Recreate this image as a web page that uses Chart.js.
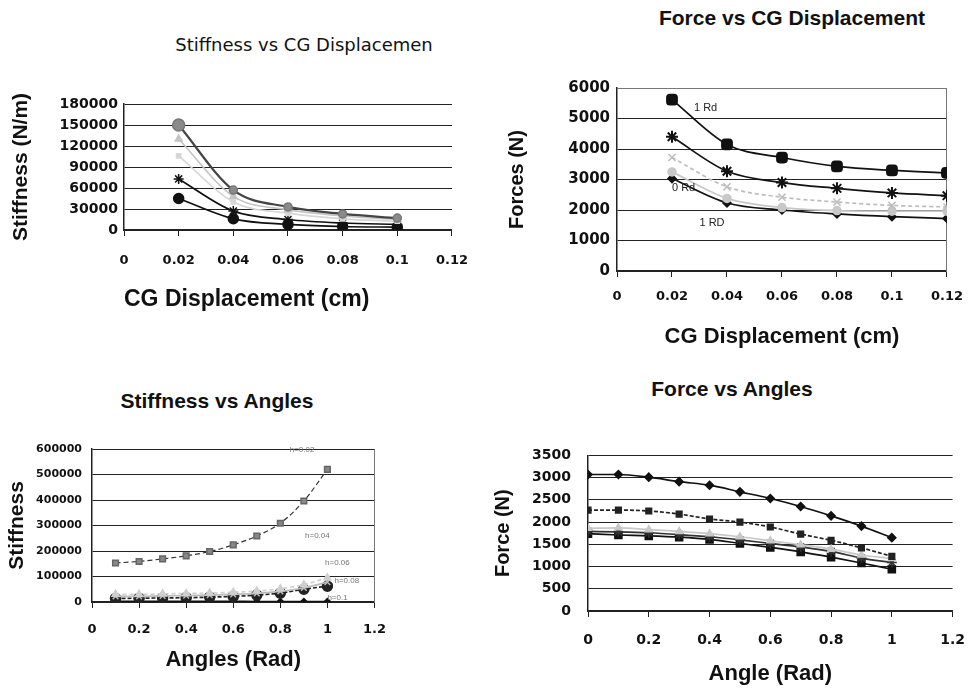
<!DOCTYPE html>
<html lang="en">

<head>
    <meta charset="UTF-8">
    <title>Stiffness and Force vs CG Displacement and Angles</title>
    <script src="https://cdn.jsdelivr.net/npm/chart.js"></script>
    <style>
        body { margin: 0; width: 980px; height: 689px; background: #fff; position: relative; overflow: hidden; }
        canvas { position: absolute; }
        .chart-title {
            position: absolute; margin: 0; line-height: 1; white-space: nowrap; color: #111;
            transform: translate(-50%, -50%);
            font-family: "Liberation Sans", Arial, sans-serif; font-weight: bold; font-size: 21px;
        }
    </style>
</head>

<body>
    <p class="chart-title" style="left:304px; top:45px; font-family:'DejaVu Sans'; font-weight:normal; font-size:18px;">Stiffness vs CG Displacemen</p>
    <p class="chart-title" style="left:792px; top:17px;">Force vs CG Displacement</p>
    <p class="chart-title" style="left:217px; top:400px;">Stiffness vs Angles</p>
    <p class="chart-title" style="left:732px; top:388px;">Force vs Angles</p>

    <canvas id="stiffnessCgChart"></canvas>
    <canvas id="forceCgChart"></canvas>
    <canvas id="stiffnessAngleChart"></canvas>
    <canvas id="forceAngleChart"></canvas>

    <script>
        // ---- data ----
        const cgDisp = [0.02, 0.04, 0.06, 0.08, 0.1];
        const stiffCgA = [150000, 57000, 33000, 23000, 17000];
        const stiffCgB = [130000, 48000, 29000, 20000, 15000];
        const stiffCgC = [106000, 40000, 24000, 16000, 12500];
        const stiffCgD = [73000, 27000, 15000, 10000, 8000];
        const stiffCgE = [45000, 16000, 8000, 5000, 4000];

        const cgDispForce = [0.02, 0.04, 0.06, 0.08, 0.1, 0.12];
        const force1Rd = [5620, 4150, 3720, 3430, 3300, 3220];
        const forceStar = [4400, 3270, 2900, 2710, 2560, 2470];
        const forceGreyX = [3720, 2760, 2420, 2260, 2150, 2100];
        const force0Rd = [3250, 2380, 2080, 1980, 1960, 1960];
        const force1RD = [3030, 2230, 2000, 1870, 1780, 1720];

        const angles = [0.1, 0.2, 0.3, 0.4, 0.5, 0.6, 0.7, 0.8, 0.9, 1.0];
        const stiffH002 = [153000, 159000, 169000, 181000, 198000, 224000, 259000, 309000, 396000, 520000];
        const stiffH004 = [30000, 30000, 32000, 33000, 35000, 38000, 43000, 52000, 68000, 95000];
        const stiffH006 = [22000, 22000, 24000, 25000, 27000, 30000, 34000, 42000, 55000, 78000];
        const stiffH008 = [14000, 15000, 16000, 17000, 19000, 22000, 27000, 35000, 50000, 62000];
        const stiffH01 = [3000, 3000, 2500, 2500, 2500, 2500, 2000, 2000, 2000, 2000];

        const anglesForce = [0, 0.1, 0.2, 0.3, 0.4, 0.5, 0.6, 0.7, 0.8, 0.9, 1.0];
        const forceAngA = [3070, 3070, 3010, 2910, 2830, 2680, 2530, 2350, 2140, 1910, 1650];
        const forceAngB = [2270, 2270, 2250, 2180, 2070, 2000, 1890, 1730, 1590, 1420, 1230];
        const forceAngC = [1860, 1870, 1830, 1790, 1740, 1670, 1580, 1490, 1390, 1260, 1180];
        const forceAngD = [1790, 1780, 1760, 1720, 1670, 1600, 1520, 1440, 1340, 1190, 1090];
        const forceAngE = [1740, 1710, 1690, 1660, 1610, 1520, 1430, 1330, 1210, 1080, 940];

        const cgTicks = [0, 0.02, 0.04, 0.06, 0.08, 0.1, 0.12];
        const stiffCgTicks = [0, 30000, 60000, 90000, 120000, 150000, 180000];
        const forceCgTicks = [0, 1000, 2000, 3000, 4000, 5000, 6000];
        const angleTicks = [0, 0.2, 0.4, 0.6, 0.8, 1, 1.2];
        const stiffAngleTicks = [0, 100000, 200000, 300000, 400000, 500000, 600000];
        const forceAngleTicks = [0, 500, 1000, 1500, 2000, 2500, 3000, 3500];

        const forceCgNotes = [
            { text: '1 Rd', x: 0.028, y: 5330 },
            { text: '0 Rd', x: 0.02, y: 2710 },
            { text: '1 RD', x: 0.030, y: 1560 }
        ];
        const stiffAngleNotes = [
            { text: 'h=0.02', x: 0.84, y: 598000 },
            { text: 'h=0.04', x: 0.905, y: 260000 },
            { text: 'h=0.06', x: 0.99, y: 153000 },
            { text: 'h=0.08', x: 1.03, y: 82000 },
            { text: 'h=0.1', x: 1.0, y: 16000 }
        ];

        Chart.defaults.font.family = "'Liberation Sans', Arial, sans-serif";
        Chart.defaults.color = '#111';

        const pts = (xs, ys) => xs.map((x, i) => ({ x: x, y: ys[i] }));

        function series(xs, ys, color, marker, extra) {
            return Object.assign({
                data: pts(xs, ys),
                borderColor: color,
                backgroundColor: color,
                pointStyle: marker,
                pointRadius: 5,
                pointBorderWidth: 1.5,
                borderWidth: 1.7,
                cubicInterpolationMode: 'monotone',
                fill: false
            }, extra || {});
        }

        // small text labels placed at data coordinates
        function notesPlugin(items, font, color) {
            return {
                id: 'notes',
                afterDatasetsDraw(chart) {
                    const ctx = chart.ctx;
                    ctx.save();
                    ctx.font = font;
                    ctx.fillStyle = color;
                    ctx.textAlign = 'left';
                    ctx.textBaseline = 'middle';
                    items.forEach(n => {
                        ctx.fillText(n.text, chart.scales.x.getPixelForValue(n.x), chart.scales.y.getPixelForValue(n.y));
                    });
                    ctx.restore();
                }
            };
        }

        function dottedEdge(position) {
            const vertical = position === 'right';
            return {
                type: 'linear', position: position,
                grid: { display: false }, ticks: { display: false },
                border: { display: true, color: '#777', dash: [2, 2], width: 1 },
                afterFit: s => { if (vertical) s.width = 0; else s.height = 0; }
            };
        }

        function makeChart(id, box, plot, cfg) {
            const canvas = document.getElementById(id);
            canvas.width = box.w;
            canvas.height = box.h;
            canvas.style.left = box.x + 'px';
            canvas.style.top = box.y + 'px';

            const xLh = cfg.xTitleSize * 1.2;
            const yLh = cfg.yTitleSize * 1.2;
            const lastY = cfg.yTicks[cfg.yTicks.length - 1];

            const scales = {
                x: {
                    type: 'linear',
                    min: cfg.xTicks[0], max: cfg.xTicks[cfg.xTicks.length - 1],
                    afterBuildTicks: s => { s.ticks = cfg.xTicks.map(v => ({ value: v })); },
                    afterFit: s => { s.height = box.y + box.h - plot.b; },
                    grid: { drawOnChartArea: false, tickLength: 6, color: '#222' },
                    border: { color: '#222', width: 1.5 },
                    ticks: {
                        autoSkip: false, maxRotation: 0, color: '#111', padding: cfg.xTickPad,
                        font: { family: 'DejaVu Sans', weight: 'bold', size: cfg.xTickSize },
                        callback: v => String(v)
                    },
                    title: {
                        display: true, text: cfg.xTitle, align: cfg.xTitleAlign || 'center', color: '#111',
                        font: { size: cfg.xTitleSize, weight: 'bold' },
                        padding: { top: 0, bottom: box.y + box.h - cfg.xTitleY - xLh / 2 }
                    }
                },
                y: {
                    type: 'linear',
                    min: cfg.yTicks[0], max: lastY,
                    afterBuildTicks: s => { s.ticks = cfg.yTicks.map(v => ({ value: v })); },
                    afterFit: s => { s.width = plot.l - box.x; },
                    grid: {
                        drawTicks: false, lineWidth: 1,
                        color: c => (cfg.hideTopGrid && c.tick && c.tick.value === lastY) ? 'rgba(0,0,0,0)' : '#222'
                    },
                    border: { color: '#222', width: 1.5 },
                    ticks: {
                        color: '#111', padding: cfg.yTickPad,
                        font: { family: 'DejaVu Sans', weight: 'bold', size: cfg.yTickSize },
                        callback: v => String(v)
                    },
                    title: {
                        display: true, text: cfg.yTitle, color: '#111',
                        font: { size: cfg.yTitleSize, weight: 'bold' },
                        padding: { top: cfg.yTitleX - box.x - yLh / 2, bottom: 0 }
                    }
                }
            };
            (cfg.edges || []).forEach(p => { scales[p === 'right' ? 'y2' : 'x2'] = dottedEdge(p); });

            return new Chart(canvas, {
                type: 'line',
                data: { datasets: cfg.datasets },
                options: {
                    responsive: false,
                    animation: false,
                    events: [],
                    layout: { padding: { left: 0, top: plot.t - box.y, right: box.x + box.w - plot.r, bottom: 0 } },
                    plugins: { legend: { display: false }, tooltip: { enabled: false } },
                    scales: scales
                },
                plugins: cfg.plugins || []
            });
        }

        document.addEventListener('DOMContentLoaded', function () {
            // Stiffness vs CG Displacement
            makeChart('stiffnessCgChart',
                { x: 0, y: 80, w: 485, h: 240 },
                { l: 124, r: 462, t: 104, b: 230 },
                {
                    xTicks: cgTicks, yTicks: stiffCgTicks,
                    xTitle: 'CG Displacement (cm)', xTitleSize: 23, xTitleY: 300, xTitleAlign: 'start',
                    yTitle: 'Stiffness (N/m)', yTitleSize: 21, yTitleX: 21,
                    xTickSize: 13, xTickPad: 17, yTickSize: 14, yTickPad: 6,
                    datasets: [
                        series(cgDisp, stiffCgA, '#444', 'circle', { pointBackgroundColor: '#8a8a8a', pointBorderColor: '#777', pointRadius: [6, 4, 4, 4, 4], borderWidth: 2.2 }),
                        series(cgDisp, stiffCgB, '#c4c4c4', 'triangle', { pointRadius: 4 }),
                        series(cgDisp, stiffCgC, '#d6d6d6', 'rect', { pointRadius: 3 }),
                        series(cgDisp, stiffCgD, '#111', 'star', { pointRadius: 5 }),
                        series(cgDisp, stiffCgE, '#111', 'circle', { pointRadius: 5 })
                    ]
                });

            // Force vs CG Displacement
            makeChart('forceCgChart',
                { x: 490, y: 70, w: 485, h: 285 },
                { l: 617, r: 952, t: 88, b: 271 },
                {
                    xTicks: cgTicks, yTicks: forceCgTicks,
                    xTitle: 'CG Displacement (cm)', xTitleSize: 22, xTitleY: 337,
                    yTitle: 'Forces (N)', yTitleSize: 20, yTitleX: 517,
                    xTickSize: 13, xTickPad: 12, yTickSize: 15, yTickPad: 7,
                    hideTopGrid: true, edges: ['top', 'right'],
                    datasets: [
                        series(cgDispForce, force1Rd, '#111', 'rectRounded', { pointRadius: 6 }),
                        series(cgDispForce, forceStar, '#111', 'star', { pointRadius: 6, pointBorderWidth: 2 }),
                        series(cgDispForce, forceGreyX, '#bdbdbd', 'crossRot', { borderDash: [4, 3] }),
                        series(cgDispForce, force0Rd, '#c8c8c8', 'circle', { pointRadius: 4 }),
                        series(cgDispForce, force1RD, '#111', 'rectRot', { pointRadius: 4 })
                    ],
                    plugins: [notesPlugin(forceCgNotes, "11px 'Liberation Sans'", '#222')]
                });

            // Stiffness vs Angles
            makeChart('stiffnessAngleChart',
                { x: 0, y: 430, w: 400, h: 250 },
                { l: 92, r: 385, t: 449, b: 602 },
                {
                    xTicks: angleTicks, yTicks: stiffAngleTicks,
                    xTitle: 'Angles (Rad)', xTitleSize: 22, xTitleY: 660,
                    yTitle: 'Stiffness', yTitleSize: 21, yTitleX: 17,
                    xTickSize: 13, xTickPad: 14, yTickSize: 11, yTickPad: 10,
                    edges: ['right'],
                    datasets: [
                        series(angles, stiffH002, '#333', 'rect', { pointRadius: 4, pointBackgroundColor: '#888', pointBorderColor: '#666', borderDash: [5, 3], borderWidth: 1.2 }),
                        series(angles, stiffH004, '#cfcfcf', 'triangle', { pointRadius: 4, borderDash: [4, 3] }),
                        series(angles, stiffH006, '#bbbbbb', 'crossRot', { pointRadius: 4 }),
                        series(angles, stiffH008, '#222', 'circle', { pointRadius: 5, borderDash: [4, 2] }),
                        series(angles, stiffH01, '#111', 'rectRot', { pointRadius: 3 })
                    ],
                    plugins: [notesPlugin(stiffAngleNotes, "8px 'Liberation Sans'", '#777')]
                });

            // Force vs Angles
            makeChart('forceAngleChart',
                { x: 480, y: 430, w: 500, h: 259 },
                { l: 588, r: 961, t: 448, b: 611 },
                {
                    xTicks: angleTicks, yTicks: forceAngleTicks,
                    xTitle: 'Angle (Rad)', xTitleSize: 22, xTitleY: 674,
                    yTitle: 'Force (N)', yTitleSize: 20, yTitleX: 503,
                    xTickSize: 14, xTickPad: 15, yTickSize: 14, yTickPad: 17,
                    datasets: [
                        series(anglesForce, forceAngA, '#111', 'rectRot', { pointRadius: 4 }),
                        series(anglesForce, forceAngB, '#222', 'rect', { pointRadius: 4, borderDash: [4, 2] }),
                        series(anglesForce, forceAngC, '#c8c8c8', 'triangle', { pointRadius: 4 }),
                        series(anglesForce, forceAngD, '#333', 'star', { pointRadius: 5 }),
                        series(anglesForce, forceAngE, '#111', 'rect', { pointRadius: 5 })
                    ]
                });
        });
    </script>
</body>

</html>
